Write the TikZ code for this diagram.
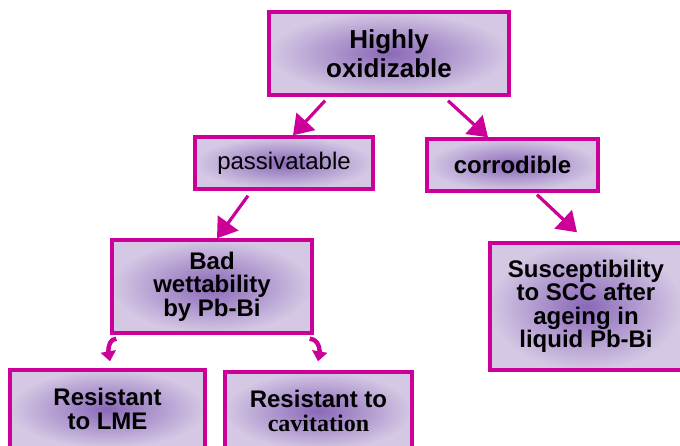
\documentclass[tikz,border=0pt]{standalone}
\usepackage{fontspec}
\setmainfont{Liberation Sans}
\newfontfamily\cavfont{Liberation Serif}
\usetikzlibrary{arrows.meta}
\usetikzlibrary{positioning}

\definecolor{rim}{RGB}{204,0,153}
\definecolor{boxlight}{RGB}{212,200,228}
\definecolor{boxdark}{RGB}{138,104,184}

\tikzset{
	box/.style={draw=rim, line width=3.4pt, inner color=boxdark, outer color=boxlight,
		align=center, inner sep=0pt, font=\fontsize{24pt}{23.5pt}\selectfont\bfseries},
	link/.style={draw=rim, line width=3.2pt, -{Triangle[length=19pt,width=25pt]}},
	hooklink/.style={draw=rim, line width=4.4pt, -{Triangle[length=10pt,width=15pt]}}
}

\begin{document}
\begin{tikzpicture}[x=1pt,y=-1pt]
		\clip (0,0) rectangle (680,445);
		\node[box, minimum width=240pt, minimum height=83pt, font=\fontsize{26pt}{29pt}\selectfont\bfseries] (oxid) at (389,53.5) {Highly\\oxidizable};
		\node[box, minimum width=178pt, minimum height=52pt, font=\fontsize{24pt}{24pt}\selectfont] (passiv) at (284,163) {passivatable};
		\node[box, minimum width=171pt, minimum height=52pt] (corrod) at (512.5,165) {corrodible};
		\node[box, minimum width=200pt, minimum height=93pt] (wett) at (212,286.5) {Bad\\wettability\\by Pb-Bi};
		\node[box, minimum width=192pt, minimum height=127pt] (scc) at (586,306.5) {Susceptibility\\to SCC after\\ageing in\\liquid Pb-Bi};
		\node[box, minimum width=195pt, minimum height=78pt] (lme) at (107.5,409) {Resistant\\to LME};
		\node[box, minimum width=187pt, minimum height=78pt] (cavit) at (318.5,411) {Resistant to\\{\cavfont\bfseries cavitation}};

		\draw[link] ([xshift=-64pt,yshift=-4pt]oxid.south) -- ([xshift=9pt]passiv.north);
		\draw[link] ([xshift=59pt,yshift=-4pt]oxid.south) -- ([xshift=-24.5pt]corrod.north);
		\draw[link] ([xshift=-36pt,yshift=-5pt]passiv.south) -- ([xshift=5pt]wett.north);
		\draw[link] ([xshift=24.5pt,yshift=-2pt]corrod.south) -- ([xshift=-9pt,yshift=9pt]scc.north);

		\draw[hooklink] ([xshift=6pt,yshift=-4pt]wett.south west) to[out=180,in=90] +(-8pt,-13pt) -- ([xshift=2.5pt,yshift=7pt]lme.north);
		\draw[hooklink] ([xshift=-4pt,yshift=-4pt]wett.south east) to[out=0,in=90] +(10pt,-13pt) -- ([xshift=-0.5pt,yshift=9pt]cavit.north);
	\end{tikzpicture}
\end{document}
